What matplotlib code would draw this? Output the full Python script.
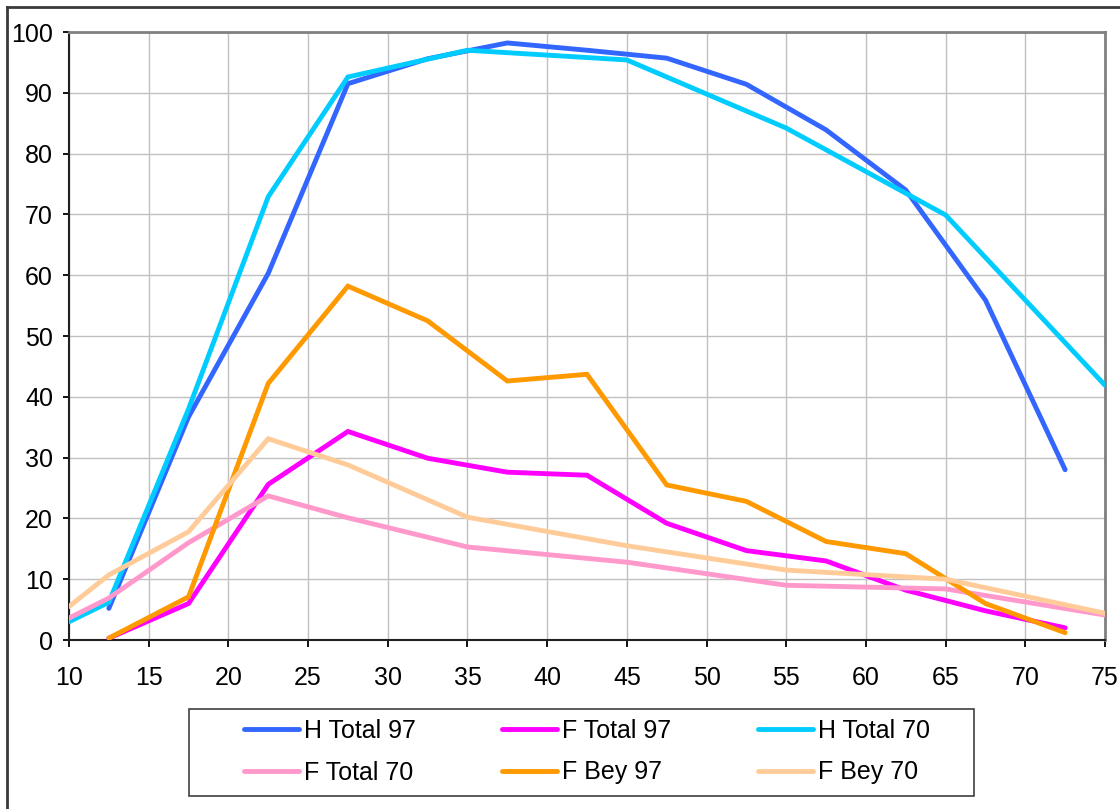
import matplotlib
matplotlib.use('Agg')
import matplotlib.pyplot as plt
from matplotlib.lines import Line2D
from matplotlib.patches import Rectangle

plt.rcParams.update({
    "font.family": ["Liberation Sans", "DejaVu Sans"],
    "font.size": 18,
})

# sampling positions of the two campaigns
x_97 = [12.5, 17.5, 22.5, 27.5, 32.5, 37.5, 42.5, 47.5, 52.5, 57.5, 62.5, 67.5, 72.5]
x_70 = [10, 12.5, 17.5, 22.5, 27.5, 35, 45, 55, 65, 75]

h_total_97 = [5.2, 36.7, 60.3, 91.5, 95.6, 98.2, 97.0, 95.7, 91.4, 83.9, 74.0, 55.9, 28.0]
f_total_97 = [0.3, 6.0, 25.6, 34.3, 29.9, 27.6, 27.1, 19.2, 14.7, 13.0, 8.2, 4.8, 2.0]
f_bey_97 = [0.3, 7.1, 42.2, 58.2, 52.5, 42.6, 43.7, 25.5, 22.8, 16.2, 14.2, 6.0, 1.2]

h_total_70 = [3.0, 6.2, 38.0, 72.9, 92.6, 97.0, 95.4, 84.2, 69.9, 41.9]
f_total_70 = [3.6, 6.9, 16.0, 23.7, 20.1, 15.3, 12.8, 9.0, 8.4, 4.1]
f_bey_70 = [5.5, 10.7, 17.8, 33.1, 28.8, 20.2, 15.5, 11.5, 10.0, 4.4]

x_ticks = list(range(10, 80, 5))
y_ticks = list(range(0, 110, 10))

series = [
    ("H Total 97", x_97, h_total_97, "#3366FF"),
    ("F Total 97", x_97, f_total_97, "#FF00FF"),
    ("H Total 70", x_70, h_total_70, "#00CCFF"),
    ("F Total 70", x_70, f_total_70, "#FF99CC"),
    ("F Bey 97", x_97, f_bey_97, "#FF9900"),
    ("F Bey 70", x_70, f_bey_70, "#FFCC99"),
]

W, H = 1120, 809
fig = plt.figure(figsize=(W / 100, H / 100), dpi=100)
ax = fig.add_axes([69 / W, 1 - 640 / H, 1036 / W, 608 / H])

lines = {}
for name, xs, ys, color in series:
    ln, = ax.plot(xs, ys, color=color, lw=3.5, label=name,
                  solid_capstyle="round", solid_joinstyle="miter", zorder=3)
    lines[name] = ln

ax.set_xlim(10, 75)
ax.set_ylim(0, 100)
ax.set_xticks(x_ticks)
ax.set_yticks(y_ticks)
ax.grid(True, color="#C0C0C0", lw=1, zorder=0)
ax.set_axisbelow(True)

ax.tick_params(axis="x", direction="out", length=5, width=1.3, pad=14, colors="black")
ax.tick_params(axis="y", direction="out", length=4.5, width=1.3, pad=7, colors="black")

for side in ("left", "bottom"):
    ax.spines[side].set_color("#202020")
    ax.spines[side].set_linewidth(1.5)
for side in ("top", "right"):
    ax.spines[side].set_color("#808080")
    ax.spines[side].set_linewidth(2)

# legend laid out row by row: three entries per row
order = ["H Total 97", "F Total 70", "F Total 97", "F Bey 97", "H Total 70", "F Bey 70"]
leg = fig.legend([lines[n] for n in order], order, ncol=3,
                 loc="center", bbox_to_anchor=(587 / W, 1 - 751.5 / H),
                 frameon=False, handlelength=2.2, handletextpad=0.2,
                 columnspacing=3.45, labelspacing=0.72, borderpad=0,
                 fontsize=18)

# legend box
fig.add_artist(Rectangle((189 / W, 1 - 796 / H), (974 - 189) / W, (796 - 709) / H,
                         transform=fig.transFigure, fill=False,
                         edgecolor="#404040", lw=1.2))

# outer chart border (top and left edges)
fig.add_artist(Line2D([7 / W, 1.0], [1 - 7 / H, 1 - 7 / H],
                      transform=fig.transFigure, color="#3a3a3a", lw=2))
fig.add_artist(Line2D([7 / W, 7 / W], [0.0, 1 - 7 / H],
                      transform=fig.transFigure, color="#3a3a3a", lw=2))

fig.savefig("out.png", dpi=100)
